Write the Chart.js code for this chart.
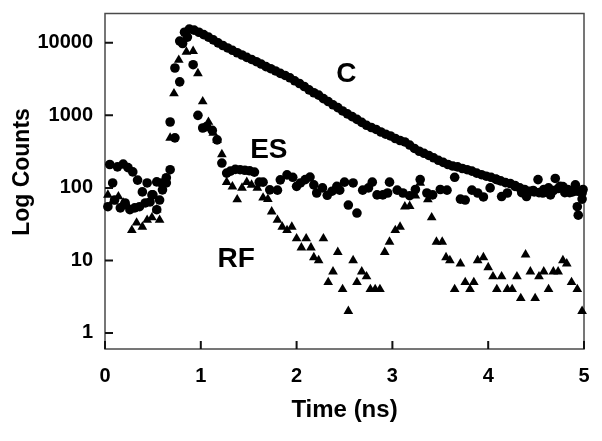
<!DOCTYPE html>
<html>
<head>
<meta charset="utf-8">
<script src="https://cdn.jsdelivr.net/npm/chart.js@4.4.1/dist/chart.umd.min.js"></script>
<style>
    body { margin: 0; background: #fff; }
</style>
</head>
<body>
<canvas id="grafico" width="602" height="441"></canvas>
<script>
// C: circles, slow decay
let cTime = [0.03, 0.08, 0.10, 0.16, 0.21, 0.26, 0.31, 0.36, 0.42, 0.47, 0.50, 0.54, 0.57, 0.60, 0.64, 0.68, 0.73, 0.78, 0.83, 0.88,
    0.93, 0.98, 1.03, 1.08, 1.13, 1.18, 1.23, 1.28, 1.33, 1.38, 1.43, 1.48, 1.53, 1.58, 1.63, 1.68, 1.73, 1.78, 1.83, 1.88,
    1.93, 1.98, 2.03, 2.08, 2.13, 2.18, 2.23, 2.28, 2.33, 2.38, 2.43, 2.48, 2.53, 2.58, 2.63, 2.68, 2.73, 2.78, 2.83, 2.88,
    2.93, 2.98, 3.03, 3.08, 3.13, 3.18, 3.23, 3.28, 3.33, 3.38, 3.43, 3.48, 3.53, 3.58, 3.63, 3.68, 3.73, 3.78, 3.83, 3.88,
    3.93, 3.98, 4.03, 4.08, 4.13, 4.18, 4.23, 4.28, 4.33, 4.38, 4.43, 4.48, 4.53, 4.58, 4.63, 4.68, 4.73, 4.78, 4.83, 4.88,
    4.93, 4.98];
let cCounts = [55, 117, 68, 53, 62, 50, 53, 55, 62, 64, 80, 50, 68, 94, 117, 810, 4500, 10600, 14000, 15500,
    15000, 14000, 13000, 12000, 11000, 10000, 9200, 8500, 7900, 7300, 6800, 6300, 5900, 5500, 5100, 4700, 4400, 4100, 3800, 3550,
    3300, 3000, 2750, 2500, 2250, 2050, 1900, 1700, 1550, 1400, 1280, 1150, 1050, 960, 880, 800, 730, 680, 640, 590,
    550, 520, 480, 450, 430, 390, 350, 320, 300, 280, 260, 240, 225, 210, 200, 195, 185, 178, 170, 160,
    152, 145, 140, 132, 125, 118, 115, 108, 100, 95, 90, 88, 86, 95, 100, 92, 98, 104, 95, 88,
    90, 85];

// ES: circles, fast decay then flat background
let esTime = [0.05, 0.13, 0.19, 0.24, 0.29, 0.34, 0.39, 0.44, 0.49, 0.54, 0.59, 0.64, 0.68, 0.73, 0.78, 0.81, 0.86, 0.92, 0.97, 1.02,
    1.06, 1.12, 1.17, 1.22, 1.27, 1.31, 1.36, 1.41, 1.46, 1.51, 1.56, 1.61, 1.65, 1.72, 1.80, 1.83, 1.90, 1.96, 2.00, 2.04,
    2.09, 2.14, 2.18, 2.21, 2.27, 2.32, 2.37, 2.42, 2.45, 2.50, 2.54, 2.59, 2.63, 2.69, 2.75, 2.79, 2.84, 2.90, 2.95, 2.97,
    3.05, 3.11, 3.18, 3.24, 3.29, 3.36, 3.42, 3.50, 3.57, 3.65, 3.71, 3.76, 3.83, 3.89, 3.95, 4.02, 4.09, 4.14, 4.20, 4.28,
    4.35, 4.40, 4.47, 4.52, 4.57, 4.65, 4.70, 4.75, 4.80, 4.85, 4.91, 4.93, 4.94, 4.98, 4.99];
let esCounts = [210, 195, 213, 190, 166, 128, 88, 117, 80, 121, 117, 138, 178, 490, 2900, 9800, 12000, 5000, 1000, 670,
    700, 620, 460, 220, 160, 170, 180, 178, 175, 172, 165, 120, 120, 94, 93, 129, 151, 140, 105, 117,
    130, 141, 110, 85, 100, 79, 90, 105, 93, 120, 58, 117, 45, 93, 100, 120, 80, 80, 85, 120,
    93, 85, 78, 95, 130, 85, 80, 95, 93, 140, 70, 68, 93, 85, 75, 100, 130, 76, 85, 105,
    86, 76, 92, 130, 85, 80, 135, 105, 86, 86, 110, 55, 42, 70, 95];

// RF: triangles
let rfTime = [0.03, 0.08, 0.14, 0.19, 0.24, 0.28, 0.33, 0.39, 0.44, 0.49, 0.54, 0.57, 0.63, 0.68, 0.72, 0.77, 0.85, 0.92, 0.97, 1.02,
    1.08, 1.13, 1.17, 1.22, 1.27, 1.33, 1.38, 1.43, 1.48, 1.53, 1.59, 1.65, 1.70, 1.74, 1.80, 1.85, 1.90, 1.95, 2.00, 2.05,
    2.10, 2.15, 2.18, 2.23, 2.28, 2.33, 2.38, 2.43, 2.48, 2.54, 2.59, 2.63, 2.68, 2.73, 2.77, 2.82, 2.87, 2.92, 2.97, 3.03,
    3.08, 3.13, 3.18, 3.24, 3.29, 3.37, 3.41, 3.46, 3.52, 3.56, 3.60, 3.65, 3.71, 3.76, 3.81, 3.85, 3.89, 3.95, 4.00, 4.05,
    4.09, 4.14, 4.20, 4.25, 4.30, 4.34, 4.39, 4.44, 4.49, 4.53, 4.58, 4.63, 4.68, 4.73, 4.78, 4.82, 4.87, 4.93, 4.98];
let rfCounts = [80, 65, 76, 62, 56, 26, 33, 29, 36, 39, 50, 36, 130, 490, 2000, 5800, 7500, 7700, 3800, 1550,
    810, 570, 460, 290, 120, 104, 69, 100, 120, 110, 100, 73, 70, 47, 36, 29, 26, 29, 20, 15,
    20, 15, 11, 10, 20, 5, 7, 13, 4, 2, 10, 5, 7, 6, 4, 4, 4, 13, 18, 26,
    29, 55, 56, 78, 117, 69, 39, 18, 18, 11, 10, 4, 9, 5, 4, 5, 10, 11, 8, 6,
    4, 6, 4, 4, 6, 3, 12, 7, 3, 6, 7, 4, 7, 7, 10, 9, 5, 4, 2];

let xTicks = [0, 1, 2, 3, 4, 5];
let yTicks = [1, 10, 100, 1000, 10000];

let nomes = [
    { text: "C", x: 2.52, y: 3720 },
    { text: "ES", x: 1.71, y: 333 },
    { text: "RF", x: 1.37, y: 10.2 }
];

function pontos(t, v) {
    return t.map((x, i) => ({ x: x, y: v[i] }));
}

const fonte = "'Liberation Sans', Arial, sans-serif";

// frame, inward ticks, curve names and y title
const extras = {
    id: "extras",
    beforeDatasetsDraw(chart) {
        let ctx = chart.ctx;
        let a = chart.chartArea;
        let sx = chart.scales.x;
        let sy = chart.scales.y;
        ctx.save();
        ctx.strokeStyle = "#4a4a4a";
        ctx.lineWidth = 1.5;
        ctx.strokeRect(a.left, a.top, a.right - a.left, a.bottom - a.top);
        ctx.strokeStyle = "#111";
        ctx.lineWidth = 2;
        ctx.beginPath();
        xTicks.forEach(v => {
            let px = sx.getPixelForValue(v);
            ctx.moveTo(px, a.bottom);
            ctx.lineTo(px, a.bottom - 8);
        });
        yTicks.forEach(v => {
            let py = sy.getPixelForValue(v);
            ctx.moveTo(a.left, py);
            ctx.lineTo(a.left + 8, py);
        });
        ctx.stroke();
        ctx.restore();
    },
    afterDatasetsDraw(chart) {
        let ctx = chart.ctx;
        let sx = chart.scales.x;
        let sy = chart.scales.y;
        ctx.save();
        ctx.fillStyle = "#000";
        ctx.textAlign = "center";
        ctx.textBaseline = "middle";
        ctx.font = "bold 28px " + fonte;
        nomes.forEach(n => {
            ctx.fillText(n.text, sx.getPixelForValue(n.x), sy.getPixelForValue(n.y));
        });
        ctx.translate(23, 172);
        ctx.rotate(-Math.PI / 2);
        ctx.font = "bold 23px " + fonte;
        ctx.fillText("Log Counts", 0, 0);
        ctx.restore();
    }
};

new Chart(document.getElementById("grafico"), {
    type: "scatter",
    data: {
        datasets: [
            {
                label: "C",
                data: pontos(cTime, cCounts),
                pointStyle: "circle",
                pointRadius: 4.8,
                backgroundColor: "#000",
                borderWidth: 0,
                clip: false
            },
            {
                label: "ES",
                data: pontos(esTime, esCounts),
                pointStyle: "circle",
                pointRadius: 4.8,
                backgroundColor: "#000",
                borderWidth: 0,
                clip: false
            },
            {
                label: "RF",
                data: pontos(rfTime, rfCounts),
                pointStyle: "triangle",
                pointRadius: 5.6,
                backgroundColor: "#000",
                borderWidth: 0,
                clip: false
            }
        ]
    },
    options: {
        responsive: false,
        animation: false,
        layout: { padding: { top: 13.5, right: 18, bottom: 0, left: 0 } },
        plugins: {
            legend: { display: false },
            tooltip: { enabled: false }
        },
        scales: {
            x: {
                type: "linear",
                min: 0,
                max: 5,
                afterBuildTicks: s => { s.ticks = xTicks.map(v => ({ value: v })); },
                afterFit: s => { s.height = 92; s.paddingLeft = 0; s.paddingRight = 0; },
                grid: { display: false, drawTicks: false },
                border: { display: false },
                ticks: {
                    color: "#000",
                    padding: 15,
                    font: { family: fonte, size: 20, weight: "bold" }
                },
                title: {
                    display: true,
                    text: "Time (ns)",
                    color: "#000",
                    padding: { top: 0, bottom: 16 },
                    font: { family: fonte, size: 24, weight: "bold" }
                }
            },
            y: {
                type: "logarithmic",
                min: 0.608,
                max: 25400,
                afterBuildTicks: s => { s.ticks = yTicks.map(v => ({ value: v })); },
                afterFit: s => { s.width = 105; s.paddingTop = 0; s.paddingBottom = 0; },
                grid: { display: false, drawTicks: false },
                border: { display: false },
                ticks: {
                    color: "#000",
                    padding: 12,
                    font: { family: fonte, size: 20, weight: "bold" },
                    callback: v => String(v)
                }
            }
        }
    },
    plugins: [extras]
});
</script>
</body>
</html>
